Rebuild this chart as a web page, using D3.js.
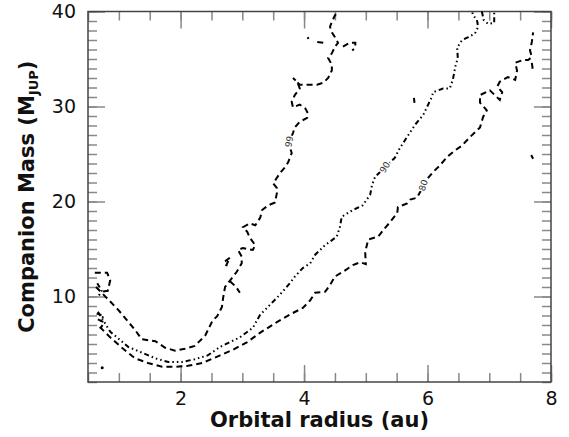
<!DOCTYPE html>
<html lang="en">
<head>
<meta charset="utf-8">
<title>Companion mass contours</title>
<script src="https://cdn.jsdelivr.net/npm/d3@7"></script>
<style>
  body { margin: 0; background: #fff; }
  .frame { fill: none; stroke: #444; stroke-width: 1.5; }
  .tick line { stroke: #888; stroke-width: 1.5; }
  .tick text { font-family: "DejaVu Sans", sans-serif; font-size: 19px; fill: #111; }
  .title { font-family: "DejaVu Sans", sans-serif; font-weight: bold; font-size: 21px; fill: #111; }
  .contour { fill: none; stroke: #000; stroke-width: 2; }
  .c99, .c80 { stroke-dasharray: 6, 4; }
  .c90 { stroke-dasharray: 5, 3, 1.5, 3, 1.5, 3, 1.5, 3; }
  .clabel { font-family: "DejaVu Sans", sans-serif; font-size: 9px; fill: #333;
            stroke: #fff; stroke-width: 3; paint-order: stroke; }
</style>
</head>
<body>
<script>
// chart size
var w = 569, h = 437;
var mLeft = 88, mRight = 551, mTop = 11.5, mBottom = 382;

// axis ticks
var xMajor = [2, 4, 6, 8];
var xMinor = d3.range(0.5, 8.01, 0.5);
var yMajor = [10, 20, 30, 40];
var yMinor = d3.range(1, 40.01, 1);

// 99% contour (M_JUP vs au)
var c99Hook = [[0.61,12.5],[0.81,12.5],[0.86,11.7],[0.82,10.6],[0.71,10.5]];
var c99Main = [[0.63,11.0],[0.99,8.6],[1.26,6.5],[1.37,5.5],[1.59,5.3],[1.75,4.6],[1.91,4.3],
  [2.07,4.5],[2.23,4.8],[2.40,5.9],[2.52,7.5],[2.59,7.9],[2.67,8.9],[2.69,9.9],[2.72,11.0],
  [2.85,12.1],[2.91,12.6],[2.99,13.5],[2.99,14.2],[2.93,14.9],[3.01,15.1],[3.17,14.9],[3.21,15.4],
  [3.12,16.2],[3.08,16.8],[3.01,17.3],[3.12,17.7],[3.21,17.5],[3.29,18.3],[3.32,19.1],[3.42,19.6],
  [3.53,19.9],[3.56,20.9],[3.56,21.4],[3.50,21.9],[3.56,22.5],[3.61,23.0],[3.69,23.6],[3.74,24.1],
  [3.80,25.1],[3.77,25.7],[3.76,26.3],[3.82,27.2],[3.85,27.8],[3.93,28.4],[4.05,28.8],[4.06,29.3],
  [4.02,29.8],[3.93,30.2],[3.82,29.9],[3.80,30.5],[3.85,31.2],[3.93,31.9],[3.89,32.6],[3.82,33.0],
  [3.93,32.3],[4.06,32.3],[4.21,32.3],[4.31,32.5],[4.39,33.0],[4.45,33.8],[4.45,34.4],[4.39,35.1],
  [4.45,35.6],[4.50,36.3],[4.55,36.7],[4.50,37.3],[4.45,37.8],[4.42,38.4],[4.45,38.9],[4.50,39.6],[4.55,40]];
var c99Loops = [[[2.72,13.7],[2.80,14.1],[2.74,13.3],[2.82,13.1]],
  [[2.80,11.6],[2.90,11.0],[2.96,10.4]],
  [[4.31,36.7],[4.21,36.8]],
  [[4.06,37.3],[4.07,37.1]],
  [[4.63,36.3],[4.74,36.7],[4.83,36.7],[4.83,36.2],[4.78,35.9]]];

// 90% contour
var c90Main = [[0.66,8.4],[0.86,6.3],[1.15,4.7],[1.37,4.1],[1.59,3.5],[1.80,3.1],[2.02,3.1],
  [2.23,3.4],[2.44,3.8],[2.64,4.7],[2.96,5.7],[3.17,6.7],[3.29,8.1],[3.40,8.8],[3.61,10.2],
  [3.77,11.4],[3.85,12.1],[3.98,13.0],[4.10,13.5],[4.18,14.4],[4.34,15.4],[4.53,16.3],[4.58,17.3],
  [4.61,18.4],[4.79,19.1],[4.95,19.6],[5.07,20.7],[5.10,21.7],[5.15,22.6],[5.31,23.6],[5.47,24.6],
  [5.55,25.6],[5.67,26.8],[5.80,28.1],[5.93,29.1],[6.01,30.2],[6.07,31.0],[6.09,31.5],[6.25,31.9],
  [6.36,31.9],[6.41,32.8],[6.45,34.2],[6.49,35.1],[6.48,36.2],[6.56,37.0],[6.66,37.3],[6.77,37.7],
  [6.82,38.4],[6.80,39.1],[6.74,39.6],[6.72,40]];
var c90Bits = [[[0.65,11.4],[0.72,10.6],[0.66,9.9]],
  [[6.88,40],[6.91,39.1],[6.98,38.7],[7.08,38.8],[7.08,40]],
  [[5.78,30.9],[5.79,30.3]],
  [[0.64,8.2],[0.75,8.0],[0.70,7.2]]];

// 80% contour
var c80Main = [[0.69,6.8],[0.86,5.7],[1.05,4.6],[1.26,3.5],[1.47,3.0],[1.70,2.6],[1.91,2.6],
  [2.12,2.7],[2.35,3.0],[2.64,3.8],[2.85,4.4],[3.08,5.2],[3.29,6.2],[3.56,7.3],[3.77,8.1],
  [3.98,8.8],[4.10,9.6],[4.18,10.4],[4.34,10.5],[4.42,11.2],[4.50,12.1],[4.63,12.6],[4.79,13.3],
  [4.91,13.6],[5.00,13.4],[4.99,14.7],[5.04,16.0],[5.20,16.3],[5.31,17.2],[5.39,17.8],[5.51,18.8],
  [5.52,19.4],[5.67,19.8],[5.72,20.2],[5.83,20.4],[5.88,21.0],[5.93,21.7],[6.01,22.5],[6.09,23.1],
  [6.20,23.8],[6.32,24.7],[6.45,25.4],[6.56,25.9],[6.69,26.8],[6.85,27.8],[6.90,28.9],[6.96,29.6],
  [6.85,30.4],[6.85,31.2],[7.01,31.7],[7.17,30.7],[7.21,31.5],[7.13,32.1],[7.17,32.6],[7.30,33.1],
  [7.42,32.8],[7.45,33.8],[7.42,34.6],[7.55,34.9],[7.63,34.9],[7.69,35.2],[7.66,35.9],[7.69,36.8],[7.71,37.8]];
var c80Bits = [[[0.66,7.6],[0.76,7.3],[0.70,6.6]],
  [[7.69,34.6],[7.71,33.6]],
  [[7.68,24.9],[7.71,24.5]]];
var strayDot = [0.73, 2.5];

// contour labels: [text, x, y, angle]
var labels = [["99", 3.76, 26.3, -80], ["90", 5.31, 23.6, -58], ["80", 5.93, 21.7, -72]];

var xScale = d3.scaleLinear().domain([0.5, 8]).range([mLeft, mRight]);
var yScale = d3.scaleLinear().domain([1, 40]).range([mBottom, mTop]);

var svg = d3.select("body").append("svg")
  .attr("width", w).attr("height", h);

function ticks(axis, vals, size, fmt) {
  return axis.tickValues(vals).tickSizeInner(-size).tickSizeOuter(0).tickFormat(fmt);
}

// minor ticks on all four sides
var g = svg.append("g");
g.append("g").attr("transform", "translate(0," + mBottom + ")")
  .call(ticks(d3.axisBottom(xScale), xMinor, 9, ""));
g.append("g").attr("transform", "translate(0," + mTop + ")")
  .call(ticks(d3.axisTop(xScale), xMinor, 9, ""));
g.append("g").attr("transform", "translate(" + mLeft + ",0)")
  .call(ticks(d3.axisLeft(yScale), yMinor, 9, ""));
g.append("g").attr("transform", "translate(" + mRight + ",0)")
  .call(ticks(d3.axisRight(yScale), yMinor, 9, ""));

// major ticks
g.append("g").attr("transform", "translate(0," + mBottom + ")")
  .call(ticks(d3.axisBottom(xScale), xMajor, 17, d3.format("d")).tickPadding(10));
g.append("g").attr("transform", "translate(0," + mTop + ")")
  .call(ticks(d3.axisTop(xScale), xMajor, 17, ""));
g.append("g").attr("transform", "translate(" + mLeft + ",0)")
  .call(ticks(d3.axisLeft(yScale), yMajor, 17, d3.format("d")).tickPadding(12));
g.append("g").attr("transform", "translate(" + mRight + ",0)")
  .call(ticks(d3.axisRight(yScale), yMajor, 17, ""));
g.selectAll(".domain").remove();

svg.append("rect").attr("class", "frame")
  .attr("x", mLeft).attr("y", mTop)
  .attr("width", mRight - mLeft).attr("height", mBottom - mTop);

// contours
var line = d3.line()
  .x(function(d) { return xScale(d[0]); })
  .y(function(d) { return yScale(d[1]); });

var plot = svg.append("g");
function draw(segs, cls) {
  plot.selectAll(null).data(segs).enter().append("path")
    .attr("class", "contour " + cls)
    .attr("d", line);
}
draw([c99Hook, c99Main].concat(c99Loops), "c99");
draw([c90Main].concat(c90Bits), "c90");
draw([c80Main].concat(c80Bits), "c80");

plot.append("circle")
  .attr("cx", xScale(strayDot[0])).attr("cy", yScale(strayDot[1]))
  .attr("r", 1.5).attr("fill", "#000");

plot.selectAll(".clabel").data(labels).enter().append("text")
  .attr("class", "clabel")
  .attr("text-anchor", "middle")
  .attr("dy", "0.35em")
  .attr("transform", function(d) {
    return "translate(" + xScale(d[1]) + "," + yScale(d[2]) + ") rotate(" + d[3] + ")";
  })
  .text(function(d) { return d[0]; });

// axis titles
svg.append("text").attr("class", "title")
  .attr("x", (mLeft + mRight) / 2).attr("y", 427)
  .attr("text-anchor", "middle")
  .text("Orbital radius (au)");

var yt = svg.append("text").attr("class", "title")
  .attr("text-anchor", "middle")
  .attr("transform", "translate(34," + ((mTop + mBottom) / 2) + ") rotate(-90)");
yt.append("tspan").text("Companion Mass (M");
yt.append("tspan").attr("font-size", "13px").attr("baseline-shift", "-4").text("JUP");
yt.append("tspan").text(")");
</script>
</body>
</html>
